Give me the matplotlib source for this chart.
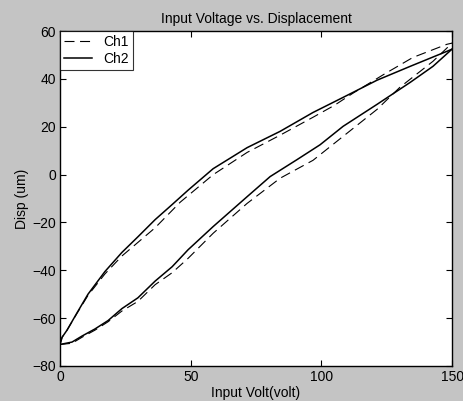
import matplotlib
matplotlib.use("Agg")
import matplotlib.pyplot as plt

# Ch2 (solid) hysteresis loop
ch2_up_x = [0, 0.8, 2.7, 6.5, 10.7, 17.2, 23.7, 29.8, 36.4, 42.9, 49, 58.6, 71.6,
            84.2, 96.8, 108.3, 121.3, 134, 148.1, 150]
ch2_up_y = [-71, -68, -65, -57.8, -50, -40.5, -32.5, -26, -18.8, -12.5, -6.5, 2.5, 11.3,
            18.1, 26, 32.3, 39.5, 45.3, 51.6, 52.5]
ch2_lo_x = [0, 4.6, 8.4, 13.4, 18.4, 23.7, 29.8, 36.4, 42.9, 49, 58.6, 71.6, 80.4,
            90.7, 99.5, 108.3, 121.3, 134, 142.7, 150]
ch2_lo_y = [-71, -70, -67.5, -64.5, -61, -56, -51.5, -44.5, -38.5, -31.4, -21.7, -9.2, -0.8,
            6.3, 12.5, 20.2, 29.4, 38.6, 45.3, 52.5]

# Ch1 (dashed)
ch1_up_x = [0, 0.8, 2.7, 6.5, 10.7, 17.2, 23.7, 36.4, 46, 58.6, 71.6, 84.2, 96.8,
            105, 112, 124, 135, 148, 150]
ch1_up_y = [-71, -68, -65, -58, -50.5, -41.5, -34, -22.2, -11.5, 0, 9.3, 16.5, 24,
            29, 34, 42, 49, 54.5, 55]
ch1_lo_x = [0, 4.6, 8.4, 13.4, 18.4, 23.7, 29.8, 36.4, 42.9, 49, 58.6, 71.6, 84.2,
            96.8, 108.3, 121.3, 130, 142.7, 150]
ch1_lo_y = [-71, -70.5, -68, -65, -61.5, -57, -53, -46, -41, -35, -24.5, -12, -1.5,
            6, 16, 27.3, 36.5, 47.4, 55]

xticks = [0, 50, 100, 150]
yticks = [-80, -60, -40, -20, 0, 20, 40, 60]

plt.rcParams['font.family'] = ['Liberation Sans Narrow', 'Liberation Sans', 'DejaVu Sans']

fig = plt.figure(figsize=(4.64, 4.01), dpi=100, facecolor='#c4c4c4')
ax = fig.add_axes([0.1293, 0.0873, 0.845, 0.835])

dash = (0, (9, 5))
ax.plot(ch1_up_x, ch1_up_y, color='black', lw=0.8, ls=dash, label='Ch1')
ax.plot(ch2_up_x, ch2_up_y, color='black', lw=1.1, label='Ch2')
ax.plot(ch1_lo_x, ch1_lo_y, color='black', lw=0.8, ls=dash)
ax.plot(ch2_lo_x, ch2_lo_y, color='black', lw=1.1)

ax.set_xlim(0, 150)
ax.set_ylim(-80, 60)
ax.set_xticks(xticks)
ax.set_yticks(yticks)
ax.tick_params(direction='in', top=True, right=True, length=4, labelsize=10, pad=3)
for s in ax.spines.values():
    s.set_linewidth(1.0)

ax.set_title('Input Voltage vs. Displacement', fontsize=10, pad=6)
ax.set_xlabel('Input Volt(volt)', fontsize=10, labelpad=1)
ax.set_ylabel('Disp (um)', fontsize=10, labelpad=2)

leg = ax.legend(loc='upper left', fontsize=10, frameon=True, fancybox=False,
                borderaxespad=0, handlelength=2.0, handletextpad=0.8,
                borderpad=0.3, labelspacing=0.2)
leg.get_frame().set_edgecolor('black')
leg.get_frame().set_linewidth(0.8)

fig.savefig('out.png', dpi=100, facecolor=fig.get_facecolor())
